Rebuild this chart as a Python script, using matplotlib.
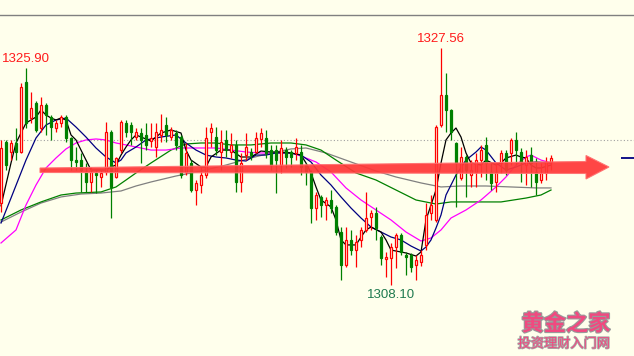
import matplotlib.pyplot as plt
import matplotlib.patheffects as pe
from matplotlib.patches import Rectangle, Polygon
from matplotlib.transforms import Affine2D

# K线数据
opens = [1314.83, 1319.84, 1319.02, 1319.76, 1319.02, 1324.77, 1321.81, 1323.04, 1320.99, 1322.88,
         1321.89, 1320.99, 1321.40, 1321.89, 1320.17, 1318.36, 1318.36, 1317.38, 1316.56, 1317.30,
         1316.97, 1317.38, 1320.66, 1316.97, 1319.18, 1321.40, 1321.24, 1320.25, 1320.58, 1320.42,
         1319.92, 1319.43, 1320.42, 1321.24, 1320.25, 1320.58, 1320.25, 1317.38, 1318.12, 1315.90,
         1316.31, 1317.13, 1320.66, 1320.25, 1319.02, 1320.01, 1319.02, 1319.60, 1316.56, 1318.77,
         1319.02, 1319.02, 1320.09, 1320.17, 1319.18, 1319.18, 1317.95, 1319.18, 1319.02, 1318.94,
         1319.02, 1317.95, 1317.38, 1314.42, 1315.33, 1314.67, 1315.08, 1314.51, 1312.45, 1309.74,
         1311.80, 1310.97, 1311.80, 1312.62, 1313.68, 1314.01, 1312.04, 1310.24, 1310.32, 1311.22,
         1312.21, 1310.56, 1310.56, 1309.74, 1309.99, 1311.39, 1314.01, 1313.44, 1321.24, 1323.70,
         1322.47, 1319.76, 1316.89, 1318.61, 1317.13, 1317.38, 1318.36, 1319.60, 1317.38, 1316.56,
         1318.12, 1318.94, 1318.94, 1320.01, 1319.02, 1317.95, 1318.77, 1317.38, 1316.72, 1317.30,
         1318.20]
highs = [1320.01, 1320.01, 1320.01, 1320.99, 1324.69, 1325.90, 1323.95, 1323.21, 1323.54, 1323.04,
         1322.06, 1321.65, 1322.06, 1322.06, 1320.25, 1319.43, 1318.94, 1318.12, 1317.79, 1317.54,
         1317.54, 1321.48, 1320.83, 1318.61, 1321.65, 1321.65, 1321.48, 1320.99, 1320.99, 1321.40,
         1321.40, 1321.40, 1322.14, 1321.89, 1321.07, 1320.83, 1320.42, 1319.76, 1318.36, 1316.72,
         1317.79, 1321.07, 1321.40, 1321.07, 1320.83, 1320.83, 1320.58, 1320.01, 1318.94, 1320.58,
         1319.35, 1320.66, 1320.99, 1320.83, 1319.60, 1319.60, 1320.01, 1319.43, 1319.18, 1320.17,
         1319.60, 1318.12, 1317.54, 1315.74, 1315.49, 1315.33, 1315.90, 1314.67, 1312.86, 1312.86,
         1312.62, 1312.21, 1312.86, 1315.74, 1314.26, 1314.51, 1312.21, 1310.81, 1311.55, 1312.37,
         1312.37, 1310.81, 1310.73, 1310.56, 1310.97, 1314.83, 1315.49, 1321.24, 1327.56, 1325.51,
         1322.55, 1319.84, 1319.43, 1318.77, 1318.36, 1318.94, 1319.60, 1320.25, 1318.12, 1318.12,
         1319.18, 1319.18, 1320.17, 1320.66, 1319.35, 1319.18, 1319.43, 1318.53, 1318.12, 1318.61,
         1318.77]
lows = [1314.09, 1317.54, 1318.36, 1318.36, 1318.94, 1320.99, 1321.40, 1320.66, 1320.66, 1320.42,
        1320.01, 1320.66, 1321.07, 1319.84, 1317.54, 1317.54, 1315.74, 1315.74, 1315.74, 1315.65,
        1316.15, 1317.13, 1313.60, 1316.89, 1318.94, 1320.25, 1319.60, 1320.01, 1318.12, 1319.18,
        1319.43, 1318.61, 1319.84, 1319.84, 1320.01, 1319.18, 1316.89, 1317.13, 1315.74, 1314.67,
        1315.65, 1316.89, 1319.43, 1318.77, 1317.54, 1318.61, 1318.53, 1315.74, 1315.74, 1318.36,
        1318.36, 1318.94, 1319.43, 1318.53, 1317.54, 1315.65, 1317.30, 1317.71, 1317.79, 1318.36,
        1317.13, 1316.31, 1313.19, 1313.44, 1313.68, 1313.44, 1314.01, 1312.21, 1308.51, 1309.58,
        1310.56, 1309.58, 1311.22, 1312.45, 1312.62, 1311.80, 1309.74, 1308.76, 1308.10, 1309.50,
        1310.56, 1308.92, 1309.17, 1308.51, 1309.66, 1310.97, 1313.44, 1313.27, 1321.07, 1320.66,
        1320.01, 1314.51, 1316.72, 1315.33, 1316.15, 1316.15, 1316.97, 1316.72, 1315.90, 1315.74,
        1317.30, 1317.13, 1317.95, 1317.95, 1316.56, 1316.31, 1316.15, 1315.49, 1316.48, 1316.72,
        1317.54]
closes = [1319.35, 1317.95, 1319.76, 1319.02, 1324.36, 1321.40, 1322.63, 1320.83, 1322.88, 1322.06,
          1321.07, 1321.40, 1321.89, 1320.17, 1318.36, 1318.20, 1317.54, 1316.56, 1317.38, 1317.13,
          1317.30, 1320.66, 1316.15, 1318.53, 1321.48, 1320.66, 1320.66, 1320.66, 1320.01, 1319.60,
          1320.17, 1320.66, 1320.83, 1320.42, 1320.83, 1319.60, 1317.13, 1318.94, 1315.90, 1316.48,
          1317.13, 1320.17, 1320.99, 1319.18, 1319.84, 1319.18, 1319.60, 1316.56, 1318.12, 1319.43,
          1318.77, 1320.17, 1320.58, 1318.94, 1317.95, 1318.36, 1319.35, 1318.61, 1318.61, 1319.43,
          1317.79, 1317.38, 1314.42, 1315.49, 1314.67, 1315.08, 1314.42, 1312.45, 1309.74, 1311.80,
          1310.97, 1311.63, 1312.62, 1313.60, 1314.01, 1312.78, 1310.32, 1310.40, 1311.22, 1312.21,
          1310.81, 1310.40, 1309.58, 1310.15, 1310.56, 1313.85, 1314.67, 1321.07, 1323.70, 1322.47,
          1320.66, 1318.12, 1318.61, 1317.54, 1317.54, 1318.36, 1319.18, 1318.12, 1316.48, 1317.38,
          1318.94, 1317.54, 1320.01, 1319.18, 1318.20, 1318.61, 1318.12, 1316.56, 1317.30, 1318.20,
          1318.53]

# 均线 (读图取点: K线序号, 价格)
ma5_idx = [0, 2, 3, 4, 5, 6, 7, 8, 9, 10, 11, 12, 13, 14, 15, 16, 17, 18, 21, 22, 23, 24, 25, 26,
           27, 30, 32, 34, 36, 37, 38, 40, 41, 42, 44, 46, 48, 50, 52, 54, 56, 58, 60, 61, 62, 63,
           64, 66, 67, 68, 69, 71, 72, 73, 74, 76, 77, 78, 80, 81, 83, 84, 85, 86, 87, 88, 89, 90,
           91, 92, 93, 94, 96, 97, 99, 100, 101, 103, 104, 105, 106, 107, 108, 110]
ma5_val = [1314.60, 1318.12, 1319.76, 1320.58, 1321.40, 1321.65, 1321.89, 1322.47, 1322.06, 1321.81,
           1321.65, 1321.81, 1321.65, 1320.42, 1320.01, 1319.18, 1318.36, 1317.54, 1317.54, 1317.79,
           1317.95, 1318.77, 1319.43, 1320.01, 1320.42, 1319.92, 1320.58, 1320.83, 1320.58, 1319.18,
           1318.36, 1317.79, 1317.79, 1318.61, 1319.18, 1319.18, 1318.61, 1318.61, 1319.10, 1319.02,
           1319.02, 1318.94, 1318.77, 1318.12, 1317.30, 1316.15, 1315.08, 1314.51, 1313.44, 1311.80,
           1311.39, 1311.39, 1312.04, 1312.62, 1312.86, 1312.45, 1311.80, 1310.97, 1310.81, 1310.73,
           1310.48, 1310.81, 1313.44, 1314.67, 1315.90, 1318.12, 1320.01, 1320.58, 1320.99, 1320.25,
           1318.94, 1318.12, 1317.95, 1318.36, 1317.95, 1318.12, 1318.53, 1318.77, 1318.61, 1318.53,
           1317.95, 1317.71, 1317.71, 1317.95]
ma10_idx = [0, 2, 5, 7, 9, 11, 13, 15, 17, 19, 21, 23, 24, 25, 27, 29, 32, 35, 37, 39, 41, 43, 45,
            47, 49, 51, 53, 55, 58, 60, 62, 64, 66, 68, 70, 72, 74, 76, 78, 80, 82, 84, 85, 86, 87,
            88, 89, 90, 91, 93, 95, 96, 97, 99, 101, 103, 105, 107, 110]
ma10_val = [1313.19, 1315.24, 1318.36, 1320.17, 1321.24, 1321.65, 1321.81, 1321.07, 1320.25, 1319.35,
            1318.61, 1318.12, 1318.36, 1318.94, 1319.43, 1320.01, 1320.25, 1320.42, 1319.76, 1319.18,
            1318.77, 1318.61, 1318.53, 1318.36, 1318.28, 1318.77, 1318.77, 1318.94, 1318.94, 1318.77,
            1318.20, 1317.13, 1316.31, 1315.33, 1314.42, 1313.60, 1312.86, 1312.45, 1312.04, 1311.80,
            1311.30, 1310.89, 1311.22, 1311.80, 1312.78, 1313.85, 1315.49, 1316.31, 1317.13, 1318.36,
            1319.02, 1319.43, 1319.18, 1318.12, 1317.54, 1317.79, 1318.12, 1318.20, 1318.12]
ma20_idx = [0, 3, 5, 7, 9, 11, 13, 15, 17, 19, 21, 23, 25, 27, 30, 33, 36, 40, 43, 46, 49, 52, 55,
            58, 60, 63, 66, 69, 72, 75, 78, 81, 84, 86, 88, 90, 93, 96, 99, 101, 103, 105, 106, 108,
            110]
ma20_val = [1311.55, 1312.62, 1314.67, 1316.31, 1317.71, 1318.53, 1319.27, 1319.76, 1320.01, 1320.09,
            1320.01, 1319.76, 1319.60, 1319.43, 1319.18, 1319.18, 1319.35, 1319.35, 1319.35, 1319.18,
            1319.02, 1318.94, 1318.94, 1318.94, 1318.69, 1318.20, 1317.38, 1316.07, 1315.08, 1314.26,
            1313.44, 1312.45, 1311.71, 1311.96, 1312.62, 1313.60, 1314.26, 1315.08, 1316.15, 1316.97,
            1317.95, 1318.61, 1318.77, 1318.36, 1318.12]
ma30_idx = [0, 4, 8, 12, 15, 20, 23, 25, 27, 30, 34, 37, 40, 43, 46, 50, 54, 58, 61, 64, 67, 71, 75,
            79, 83, 87, 90, 95, 100, 105, 108, 110]
ma30_val = [1313.44, 1314.26, 1314.92, 1315.49, 1315.65, 1315.74, 1316.15, 1316.72, 1317.30, 1318.12,
            1319.18, 1319.68, 1319.76, 1319.76, 1319.60, 1319.60, 1319.76, 1319.76, 1319.60, 1319.18,
            1318.36, 1317.30, 1316.72, 1315.90, 1315.08, 1314.75, 1314.92, 1314.92, 1314.92, 1315.24,
            1315.49, 1315.90]
ma60_idx = [0, 4, 8, 12, 16, 20, 24, 27, 30, 35, 40, 45, 50, 54, 58, 61, 65, 70, 75, 79, 84, 88, 92,
            97, 102, 107, 110]
ma60_val = [1313.27, 1314.09, 1314.83, 1315.33, 1315.57, 1315.65, 1315.82, 1316.23, 1316.56, 1317.05,
            1317.46, 1317.95, 1318.53, 1318.94, 1319.27, 1319.35, 1318.94, 1318.20, 1317.46, 1316.97,
            1316.48, 1316.15, 1316.23, 1316.23, 1316.15, 1316.07, 1316.07]

ref_line = 1319.97      # 虚线
last_price = 1318.53    # 右侧现价标记
high_idx, low_idx = 88, 78
left_high_idx = 5

bg = '#ffffec'
red = '#ff0000'
green = '#008000'

fig = plt.figure(figsize=(6.34, 3.56), dpi=100, facecolor=bg)
ax = fig.add_axes([0, 0, 1, 341 / 356])
ax.set_facecolor(bg)
ax.set_xlim(-0.2, -0.2 + 634 / 5)
ax.set_ylim(1302.27, 1330.27)
for s in ['left', 'right', 'bottom']:
    ax.spines[s].set_visible(False)
ax.spines['top'].set_color('#808080')
ax.spines['top'].set_linewidth(1.0)
ax.set_xticks([])
ax.set_yticks([])

ax.axhline(ref_line, color='#a0a0a0', lw=0.8, ls=(0, (1, 2)), zorder=1)

# 均线
ax.plot(ma60_idx, ma60_val, color='#808080', lw=0.9, zorder=2)
ax.plot(ma30_idx, ma30_val, color='#008000', lw=0.9, zorder=2)
ax.plot(ma20_idx, ma20_val, color='#ff00ff', lw=0.9, zorder=2)
ax.plot(ma10_idx, ma10_val, color='#000080', lw=0.9, zorder=2)
ax.plot(ma5_idx, ma5_val, color='#000000', lw=0.9, zorder=2)

# K线
w = 0.5
for i in range(len(opens)):
    o, h, l, c = opens[i], highs[i], lows[i], closes[i]
    if c >= o:
        ax.vlines(i, l, o, color=red, lw=0.9, zorder=3)
        ax.vlines(i, c, h, color=red, lw=0.9, zorder=3)
        ax.add_patch(Rectangle((i - w / 2, o), w, c - o, facecolor=bg,
                               edgecolor=red, lw=0.9, zorder=3))
    else:
        ax.vlines(i, l, h, color=green, lw=0.9, zorder=3)
        ax.add_patch(Rectangle((i - w / 2, c), w, o - c, facecolor=green,
                               edgecolor=green, lw=0.9, zorder=3))

# 高低点标注
lab = dict(family='Liberation Sans', fontsize=9.5, ha='center')
ax.annotate(f'{highs[left_high_idx]:.2f}', (left_high_idx, highs[left_high_idx]),
            xytext=(0, 2.5), textcoords='offset points', va='bottom', color='#ff1a1a', **lab)
ax.annotate(f'{highs[high_idx]:.2f}', (high_idx, highs[high_idx]),
            xytext=(0, 2.5), textcoords='offset points', va='bottom', color='#ff1a1a', **lab)
ax.annotate(f'{lows[low_idx]:.2f}', (low_idx, lows[low_idx]),
            xytext=(0, -3), textcoords='offset points', va='top', color='#1f7a4f', **lab)

# 右侧现价标记
ax.hlines(last_price, 124.0, 126.6, color='#000080', lw=1.3, zorder=3)

# 红色箭头 (像素坐标)
pix = Affine2D().scale(1 / 634, -1 / 356).translate(0, 1) + fig.transFigure
arrow = Polygon([(40, 168), (40, 172.5), (586, 173.5), (586, 179), (609, 167),
                 (586, 155.5), (586, 161.5)], closed=True,
                facecolor='#ff3838', edgecolor='#ff7070', lw=0.8, alpha=0.93,
                transform=pix, zorder=5)
fig.patches.append(arrow)

# 水印
fig.text(566 / 634, 1 - 324 / 356, '黄金之家', family=['Noto Sans CJK SC', 'DejaVu Sans'],
         fontsize=16, weight='bold', color='#f04a80', ha='center', va='center',
         path_effects=[pe.withStroke(linewidth=1.6, foreground='#9a9a9a')])
fig.text(564 / 634, 1 - 344 / 356, '投资理财入门网', family=['Noto Sans CJK SC', 'DejaVu Sans'],
         fontsize=9.5, color='#f04a80', ha='center', va='center',
         path_effects=[pe.withStroke(linewidth=1.2, foreground='#a8a8a8')])

fig.savefig('out.png', dpi=100, facecolor=bg)
